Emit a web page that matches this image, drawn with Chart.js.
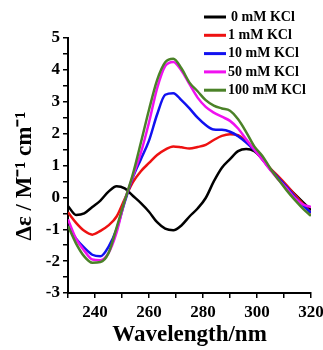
<!DOCTYPE html>
<html>
<head>
<meta charset="utf-8">
<script src="https://cdn.jsdelivr.net/npm/chart.js@4"></script>
<style>
body{margin:0;background:#fff;}
#box{width:323px;height:350px;}
</style>
</head>
<body>
<div id="box"><canvas id="cd"></canvas></div>
<script>
let wavelength = [230,233,236,239,242,245,248,251,254,257,260,263,266,269,272,275,278,281,284,287,290,293,296,299,302,305,308,311,314,317,320];

let kcl0 = [-0.27,-0.55,-0.5,-0.3,-0.1,0.18,0.35,0.28,0.05,-0.18,-0.45,-0.78,-0.98,-1.03,-0.88,-0.6,-0.35,-0.02,0.5,0.93,1.2,1.45,1.52,1.45,1.2,0.88,0.6,0.35,0.1,-0.15,-0.4];
let kcl1 = [-0.47,-0.8,-1.05,-1.17,-1.05,-0.88,-0.6,-0.05,0.47,0.82,1.08,1.33,1.5,1.6,1.57,1.53,1.58,1.65,1.8,1.93,1.98,1.95,1.75,1.48,1.2,0.9,0.65,0.38,0.08,-0.2,-0.5];
let kcl10 = [-0.9,-1.3,-1.58,-1.8,-1.85,-1.55,-1.0,-0.15,0.62,1.2,1.78,2.6,3.22,3.27,3.05,2.79,2.5,2.27,2.13,2.12,2.06,1.92,1.72,1.48,1.2,0.88,0.6,0.32,0.02,-0.25,-0.48];
let kcl50 = [-0.69,-1.3,-1.67,-1.95,-1.97,-1.75,-1.1,-0.1,0.65,1.4,2.35,3.42,4.12,4.25,3.98,3.55,3.13,2.84,2.66,2.53,2.4,2.16,1.82,1.5,1.18,0.85,0.55,0.28,-0.02,-0.22,-0.3];
let kcl100 = [-0.9,-1.45,-1.85,-2.05,-2.03,-1.75,-0.95,-0.1,0.72,1.72,2.75,3.68,4.24,4.35,4.05,3.6,3.33,3.05,2.88,2.79,2.72,2.45,2.05,1.6,1.3,0.9,0.55,0.22,-0.08,-0.35,-0.58];

let seriesNames = ["0 mM KCl","1 mM KCl","10 mM KCl","50 mM KCl","100 mM KCl"];
let seriesColors = ["#000000","#ee1111","#1111f0","#f011f0","#4b8228"];
let yTitle = "Δε / M⁻¹ cm⁻¹";

let serif = "'Liberation Serif', 'Times New Roman', serif";

function makeSet(i, values){
return {
label: seriesNames[i],
data: wavelength.map(function(w, k){ return {x: w, y: values[k]}; }),
borderColor: seriesColors[i],
borderWidth: 2.5,
pointRadius: 0,
cubicInterpolationMode: "monotone",
fill: false
};
}

// legend sits over the plot and the y title is a bit below centre, so draw both by hand
let extrasPlugin = {
id: "extras",
afterDraw: function(chart){
let ctx = chart.ctx;
ctx.save();
ctx.font = "bold 14px " + serif;
ctx.textBaseline = "middle";
ctx.fillStyle = "#000";
for(let i = 0; i < seriesNames.length; i++){
let y = 17 + i*18.3;
ctx.strokeStyle = seriesColors[i];
ctx.lineWidth = 3;
ctx.beginPath();
ctx.moveTo(204, y);
ctx.lineTo(226, y);
ctx.stroke();
ctx.fillText(seriesNames[i], i == 0 ? 231 : 228, y);
}
ctx.translate(25, 176);
ctx.rotate(-Math.PI/2);
ctx.font = "bold 23px " + serif;
ctx.textAlign = "center";
ctx.fillText(yTitle, 0, 0);
ctx.restore();
}
};

new Chart(document.getElementById("cd"),{
type: "line",
data: {
datasets: [makeSet(4,kcl100), makeSet(3,kcl50), makeSet(2,kcl10), makeSet(1,kcl1), makeSet(0,kcl0)]
},
options: {
responsive: true,
maintainAspectRatio: false,
animation: false,
layout: {padding: {left: 0, top: 38, right: 12, bottom: 0}},
plugins: {legend: {display: false}, tooltip: {enabled: false}},
scales: {
x: {
type: "linear",
min: 230,
max: 320,
border: {color: "#000", width: 2},
grid: {drawOnChartArea: false, drawTicks: true, tickLength: 5, color: "#000", lineWidth: 1.5},
ticks: {
stepSize: 10,
autoSkip: false,
maxRotation: 0,
padding: 4,
color: "#000",
font: {family: serif, weight: "bold", size: 17},
callback: function(v){ return v % 20 == 0 ? v : ""; }
},
title: {display: true, text: "Wavelength/nm", color: "#000", font: {family: serif, weight: "bold", size: 23}, padding: {top: 0, bottom: 1}},
afterFit: function(s){ s.height = 57; s.paddingLeft = 0; s.paddingRight = 0; }
},
y: {
min: -3,
max: 5,
border: {color: "#000", width: 2},
grid: {drawOnChartArea: false, drawTicks: true, tickLength: 5, color: "#000", lineWidth: 1.5},
ticks: {
stepSize: 0.5,
autoSkip: false,
padding: 3,
color: "#000",
font: {family: serif, weight: "bold", size: 17},
callback: function(v){ return Number.isInteger(v) ? v : ""; }
},
afterFit: function(s){ s.width = 68; s.paddingTop = 0; s.paddingBottom = 0; }
}
}
},
plugins: [extrasPlugin]
});
</script>
</body>
</html>
